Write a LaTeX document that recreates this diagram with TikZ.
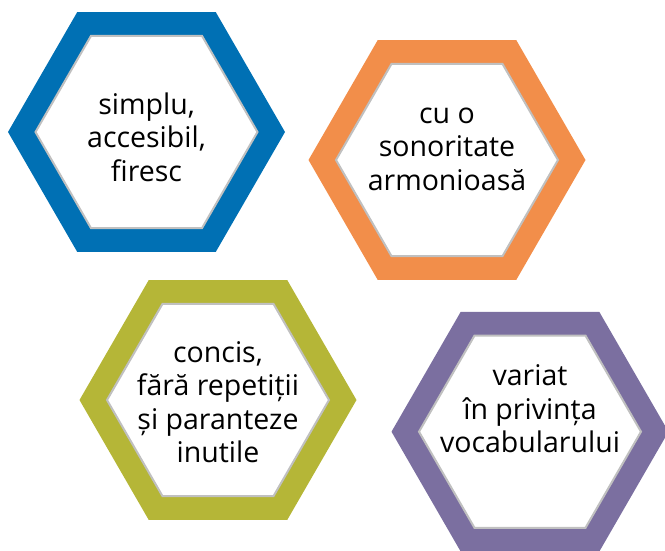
\documentclass[tikz,border=0pt]{standalone}
\usepackage{fontspec}
\setmainfont{Open Sans}
\definecolor{hblue}{RGB}{0,112,180}
\definecolor{horange}{RGB}{242,142,74}
\definecolor{holive}{RGB}{181,182,55}
\definecolor{hpurple}{RGB}{123,111,160}
\definecolor{hgray}{RGB}{192,192,192}
\tikzset{
  hextext/.style={align=center, font=\fontsize{28.5}{33.5}\selectfont, text=black, inner sep=0pt},
}
\newcommand{\hexagonat}[2]{%
  \fill[#2] (#1) +(0:138.5) -- +(60:138.5) -- +(120:138.5) -- +(180:138.5) -- +(240:138.5) -- +(300:138.5) -- cycle;
  \filldraw[fill=white, draw=hgray, line width=2pt] (#1) +(0:111) -- +(60:111) -- +(120:111) -- +(180:111) -- +(240:111) -- +(300:111) -- cycle;
}
\begin{document}
\begin{tikzpicture}[x=1pt,y=-1pt]
\useasboundingbox (0,0) rectangle (665,550);
\coordinate (c1) at (146.5,132);
\coordinate (c2) at (447,160);
\coordinate (c3) at (218,400);
\coordinate (c4) at (530,431.7);
\hexagonat{c1}{hblue}
\hexagonat{c2}{horange}
\hexagonat{c3}{holive}
\hexagonat{c4}{hpurple}
\node[hextext] (t1) at (146.5,137) {simplu,\\accesibil,\\firesc};
\node[hextext] (t2) at (447,149) {cu o\\sonoritate\\armonioasă};
\node[hextext] (t3) at (218,402) {concis,\\fără repetiții\\și paranteze\\inutile};
\node[hextext] (t4) at (530,409) {variat\\în privința\\vocabularului};
\end{tikzpicture}
\end{document}
